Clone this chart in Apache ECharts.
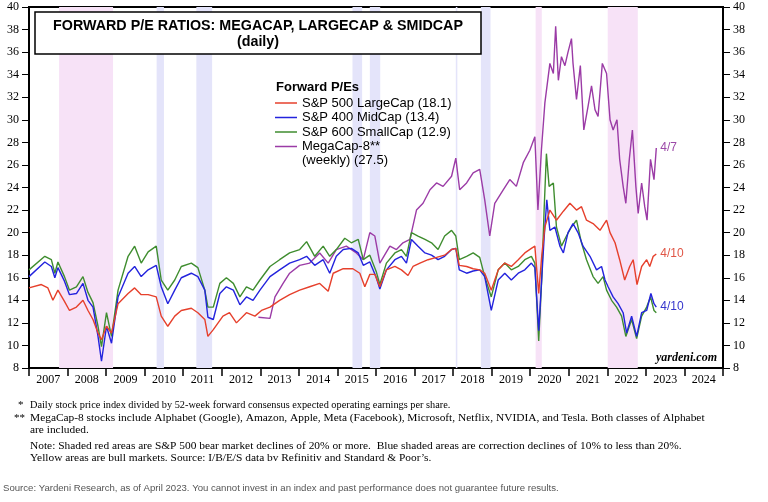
<!DOCTYPE html>
<html>
<head>
<meta charset="utf-8">
<script src="https://cdn.jsdelivr.net/npm/echarts@6/dist/echarts.min.js"></script>
<style>
  html, body { margin: 0; padding: 0; background: #fff; }
  #chart { width: 768px; height: 502px; }
</style>
</head>
<body>
<div id="chart"></div>
<script>
// bottom axis labels, one per calendar year
var yearLabels = ['2007', '2008', '2009', '2010', '2011', '2012', '2013', '2014', '2015',
  '2016', '2017', '2018', '2019', '2020', '2021', '2022', '2023', '2024'];

// [decimal year, forward P/E]
var largeCap = [[2007.00,15.1],[2007.32,15.4],[2007.49,15.1],[2007.62,14.0],[2007.75,14.9],[2007.92,13.9],
  [2008.05,13.1],[2008.23,13.4],[2008.40,14.0],[2008.53,13.1],[2008.66,12.3],[2008.79,11.1],[2008.88,10.5],
  [2009.01,11.7],[2009.14,11.1],[2009.31,13.7],[2009.57,14.6],[2009.74,15.1],[2009.91,14.5],[2010.09,14.5],
  [2010.30,14.3],[2010.43,12.6],[2010.60,11.7],[2010.78,12.6],[2010.95,13.1],[2011.21,13.3],[2011.38,12.9],
  [2011.56,12.3],[2011.64,10.8],[2011.78,11.4],[2012.03,12.6],[2012.20,12.9],[2012.38,12.0],[2012.64,12.9],
  [2012.86,12.6],[2013.03,13.1],[2013.25,13.4],[2013.50,14.0],[2013.76,14.5],[2014.02,14.9],[2014.28,15.2],
  [2014.54,15.5],[2014.76,14.8],[2014.89,16.4],[2015.15,16.8],[2015.40,16.8],[2015.58,16.4],[2015.71,15.2],
  [2015.84,16.3],[2015.97,16.3],[2016.10,15.2],[2016.27,16.7],[2016.49,17.0],[2016.66,16.7],[2016.83,16.2],
  [2016.96,17.0],[2017.14,17.3],[2017.35,17.6],[2017.57,17.8],[2017.78,18.0],[2017.96,18.5],[2018.07,18.6],
  [2018.16,17.1],[2018.35,17.0],[2018.52,16.8],[2018.69,16.7],[2018.82,16.4],[2018.99,14.9],[2019.17,16.7],
  [2019.34,17.3],[2019.51,17.0],[2019.69,17.6],[2019.86,18.2],[2020.03,18.6],[2020.12,18.8],[2020.22,14.6],
  [2020.30,18.0],[2020.38,20.5],[2020.51,22.0],[2020.68,21.1],[2020.86,21.9],[2021.03,22.6],[2021.20,22.0],
  [2021.33,22.3],[2021.46,21.1],[2021.63,20.8],[2021.81,20.2],[2021.98,21.1],[2022.07,20.0],[2022.20,19.1],
  [2022.32,17.6],[2022.45,15.8],[2022.58,17.0],[2022.67,17.6],[2022.77,15.4],[2022.89,17.0],[2023.02,17.6],
  [2023.10,17.0],[2023.19,17.9],[2023.27,18.1]];

var midCap = [[2007.00,16.1],[2007.41,17.4],[2007.58,17.0],[2007.67,16.0],[2007.75,16.9],[2007.92,15.7],
  [2008.05,14.5],[2008.23,14.6],[2008.40,15.5],[2008.53,14.0],[2008.66,13.4],[2008.79,10.8],[2008.88,8.6],
  [2009.01,11.7],[2009.14,10.2],[2009.31,14.3],[2009.57,16.4],[2009.74,17.0],[2009.91,16.1],[2010.09,16.7],
  [2010.30,17.1],[2010.43,15.2],[2010.60,13.7],[2010.78,14.9],[2010.95,16.0],[2011.21,16.4],[2011.38,16.1],
  [2011.56,14.9],[2011.64,12.5],[2011.78,12.3],[2011.95,14.6],[2012.12,15.2],[2012.30,14.9],[2012.47,13.6],
  [2012.64,14.3],[2012.81,14.0],[2012.99,14.9],[2013.25,16.1],[2013.50,16.7],[2013.76,17.3],[2014.02,17.6],
  [2014.20,17.9],[2014.41,17.1],[2014.63,17.6],[2014.80,16.4],[2014.97,17.9],[2015.15,18.5],[2015.36,18.6],
  [2015.54,18.2],[2015.67,17.1],[2015.84,17.4],[2016.01,16.0],[2016.10,15.0],[2016.27,16.7],[2016.49,17.6],
  [2016.66,17.9],[2016.79,17.3],[2016.92,19.4],[2017.09,18.8],[2017.27,18.2],[2017.44,18.0],[2017.61,17.6],
  [2017.78,17.9],[2017.96,18.5],[2018.07,18.6],[2018.16,16.7],[2018.35,16.4],[2018.52,16.6],[2018.69,16.7],
  [2018.82,16.1],[2018.99,13.1],[2019.17,15.8],[2019.34,16.4],[2019.51,15.8],[2019.69,16.4],[2019.86,16.7],
  [2020.03,17.3],[2020.12,16.9],[2020.22,11.3],[2020.30,16.0],[2020.36,19.5],[2020.43,22.9],[2020.51,20.2],
  [2020.64,20.5],[2020.77,18.8],[2020.86,18.2],[2020.98,20.0],[2021.11,20.8],[2021.24,20.0],[2021.37,18.8],
  [2021.55,17.9],[2021.72,16.7],[2021.85,17.0],[2021.94,15.8],[2022.02,15.2],[2022.15,14.3],[2022.28,13.7],
  [2022.41,12.9],[2022.50,11.1],[2022.63,12.6],[2022.76,10.8],[2022.89,12.9],[2023.02,13.1],[2023.13,14.6],
  [2023.21,13.7],[2023.27,13.4]];

var smallCap = [[2007.00,16.7],[2007.41,17.9],[2007.58,17.6],[2007.67,16.4],[2007.75,17.4],[2007.92,16.1],
  [2008.05,14.9],[2008.23,15.2],[2008.40,16.1],[2008.53,14.7],[2008.66,13.8],[2008.79,11.7],[2008.88,9.9],
  [2009.01,12.9],[2009.14,10.8],[2009.31,14.9],[2009.57,17.9],[2009.74,18.8],[2009.91,17.3],[2010.09,18.3],
  [2010.30,18.8],[2010.43,15.8],[2010.60,14.9],[2010.78,15.8],[2010.95,17.0],[2011.21,17.3],[2011.38,16.9],
  [2011.56,14.9],[2011.64,13.4],[2011.78,13.4],[2011.95,15.5],[2012.12,16.0],[2012.30,15.5],[2012.47,14.3],
  [2012.64,15.2],[2012.81,14.9],[2012.99,15.8],[2013.25,17.0],[2013.50,17.6],[2013.76,18.2],[2014.02,18.5],
  [2014.20,19.2],[2014.41,17.9],[2014.63,18.8],[2014.80,17.9],[2014.97,18.5],[2015.19,19.5],[2015.36,19.1],
  [2015.54,19.4],[2015.67,17.6],[2015.84,18.0],[2016.01,16.5],[2016.10,15.4],[2016.27,17.3],[2016.49,18.2],
  [2016.66,18.5],[2016.79,17.9],[2016.92,20.0],[2017.09,19.7],[2017.27,19.4],[2017.44,19.1],[2017.61,18.5],
  [2017.78,19.7],[2017.96,20.2],[2018.07,19.7],[2018.16,17.6],[2018.35,17.9],[2018.52,18.2],[2018.69,17.8],
  [2018.82,16.1],[2018.99,14.3],[2019.17,16.7],[2019.34,17.3],[2019.51,16.7],[2019.69,17.0],[2019.86,17.6],
  [2020.03,17.9],[2020.12,17.3],[2020.22,10.4],[2020.30,16.0],[2020.36,22.0],[2020.42,27.0],[2020.49,24.1],
  [2020.60,24.4],[2020.68,20.5],[2020.81,18.8],[2020.94,19.7],[2021.07,20.5],[2021.20,21.1],[2021.33,19.1],
  [2021.46,17.6],[2021.63,16.1],[2021.76,15.5],[2021.89,16.1],[2021.98,14.9],[2022.11,14.0],[2022.24,13.4],
  [2022.37,12.6],[2022.48,10.8],[2022.63,12.3],[2022.76,10.6],[2022.89,12.6],[2023.02,13.4],[2023.12,14.3],
  [2023.21,13.1],[2023.27,12.9]];

var megaCap = [[2012.95,12.5],[2013.25,12.4],[2013.38,14.3],[2013.59,15.5],[2013.76,16.4],[2014.02,17.1],
  [2014.28,17.3],[2014.54,18.2],[2014.76,17.3],[2014.97,18.5],[2015.23,18.8],[2015.49,18.2],[2015.67,17.6],
  [2015.84,20.0],[2015.97,19.7],[2016.10,17.3],[2016.36,18.8],[2016.53,18.5],[2016.70,19.1],[2016.88,19.4],
  [2017.05,22.0],[2017.22,22.6],[2017.40,23.8],[2017.57,24.4],[2017.74,24.1],[2017.96,25.0],[2018.07,26.6],
  [2018.17,23.8],[2018.35,24.4],[2018.52,25.3],[2018.69,25.6],[2018.82,22.9],[2018.95,19.7],[2019.08,22.6],
  [2019.30,23.8],[2019.47,24.7],[2019.64,24.1],[2019.82,26.2],[2019.99,27.3],[2020.12,28.5],[2020.20,22.0],
  [2020.29,27.3],[2020.38,31.5],[2020.51,35.0],[2020.60,34.1],[2020.66,38.3],[2020.73,33.5],[2020.81,35.6],
  [2020.90,34.8],[2020.98,36.0],[2021.07,37.2],[2021.11,35.0],[2021.20,31.8],[2021.30,34.8],[2021.39,29.1],
  [2021.50,31.2],[2021.59,33.0],[2021.68,30.9],[2021.76,30.3],[2021.87,35.0],[2021.98,34.1],[2022.07,30.0],
  [2022.15,29.1],[2022.25,30.0],[2022.32,26.5],[2022.41,24.1],[2022.48,22.6],[2022.57,26.5],[2022.65,29.1],
  [2022.74,24.1],[2022.80,21.7],[2022.89,24.4],[2022.97,22.3],[2023.03,21.1],[2023.12,26.5],[2023.21,24.7],
  [2023.27,27.5]];

// shaded periods: bear markets (pink) and corrections (blue)
var bearBands = [[2007.78, 2009.18], [2020.14, 2020.30], [2022.01, 2022.79]];
var correctionBands = [[2010.31, 2010.50], [2011.34, 2011.75], [2015.39, 2015.64],
  [2015.84, 2016.11], [2018.07, 2018.11], [2018.72, 2018.97]];

var serif = '"Liberation Serif", "Times New Roman", serif';
var sans = '"Liberation Sans", Arial, sans-serif';

function band(list, color) {
  return list.map(function (b) {
    return [{ xAxis: b[0], itemStyle: { color: color } }, { xAxis: b[1] }];
  });
}

function line(name, data, color, z, endText, endColor) {
  var s = {
    name: name,
    type: 'line',
    data: data,
    symbol: 'none',
    z: z,
    color: color,
    lineStyle: { width: 1.4, color: color },
    animation: false
  };
  if (endText) {
    s.endLabel = {
      show: true, formatter: endText, color: endColor,
      fontFamily: sans, fontSize: 12, distance: 4
    };
  }
  return s;
}

function note(x, y, text, size) {
  return { type: 'text', x: x, y: y,
    style: { text: text, font: size + 'px ' + serif, fill: '#000', verticalAlign: 'middle' } };
}

var myChart = echarts.init(document.getElementById('chart'));
myChart.setOption({
  animation: false,
  backgroundColor: '#fff',
  grid: {
    left: 29, right: 45, top: 7, bottom: 134,
    show: true, borderColor: '#000', borderWidth: 2
  },
  legend: {
    data: ['S&P 500 LargeCap (18.1)', 'S&P 400 MidCap (13.4)', 'S&P 600 SmallCap (12.9)', 'MegaCap-8**'],
    orient: 'vertical',
    left: 270, top: 91,
    icon: 'rect',
    itemWidth: 22, itemHeight: 1.5, itemGap: 0.5,
    selectedMode: false,
    textStyle: { fontFamily: sans, fontSize: 13, color: '#000', lineHeight: 14 }
  },
  xAxis: [
    { type: 'value', min: 2007, max: 2025, show: false },
    {
      type: 'category', data: yearLabels, position: 'bottom', boundaryGap: true,
      axisLine: { lineStyle: { color: '#000', width: 2 } },
      axisTick: { show: true, length: 8, lineStyle: { color: '#000', width: 1.5 } },
      axisLabel: { fontFamily: serif, fontSize: 12, color: '#000', margin: 6 },
      splitLine: { show: false }
    }
  ],
  yAxis: [
    {
      type: 'value', min: 8, max: 40, interval: 2, position: 'left',
      axisLine: { show: true, lineStyle: { color: '#000', width: 2 } },
      axisTick: { show: true, length: 7, lineStyle: { color: '#000' } },
      axisLabel: { fontFamily: serif, fontSize: 12, color: '#000', margin: 10 },
      splitLine: { show: false }
    },
    {
      type: 'value', min: 8, max: 40, interval: 2, position: 'right',
      axisLine: { show: true, lineStyle: { color: '#000', width: 2 } },
      axisTick: { show: true, length: 7, lineStyle: { color: '#000' } },
      axisLabel: { fontFamily: serif, fontSize: 12, color: '#000', margin: 10 },
      splitLine: { show: false }
    }
  ],
  series: [
    {
      name: 'bands', type: 'line', data: [], z: 1, silent: true,
      markArea: {
        silent: true,
        data: band(bearBands, '#f7e2f7').concat(band(correctionBands, '#e4e4fa'))
      }
    },
    line('MegaCap-8**', megaCap, '#9b3ba6', 2, '4/7', '#9c4aa8'),
    line('S&P 600 SmallCap (12.9)', smallCap, '#3f8d2f', 3),
    line('S&P 400 MidCap (13.4)', midCap, '#2323dd', 4, '4/10', '#3535cc'),
    line('S&P 500 LargeCap (18.1)', largeCap, '#e6402c', 5, '4/10', '#e05545')
  ],
  graphic: [
    {
      type: 'rect', z: 100,
      shape: { x: 35, y: 12, width: 446, height: 42 },
      style: { fill: '#fff', stroke: '#000', lineWidth: 1.5 }
    },
    { type: 'text', z: 101, x: 258, y: 26,
      style: { text: 'FORWARD P/E RATIOS: MEGACAP, LARGECAP & SMIDCAP', font: 'bold 14.3px ' + sans,
        fill: '#000', align: 'center', verticalAlign: 'middle' } },
    { type: 'text', z: 101, x: 258, y: 42,
      style: { text: '(daily)', font: 'bold 14.3px ' + sans, fill: '#000', align: 'center', verticalAlign: 'middle' } },
    { type: 'text', z: 101, x: 276, y: 87,
      style: { text: 'Forward P/Es', font: 'bold 13px ' + sans, fill: '#000', verticalAlign: 'middle' } },
    { type: 'text', z: 101, x: 302, y: 160,
      style: { text: '(weekly) (27.5)', font: '13px ' + sans, fill: '#000', verticalAlign: 'middle' } },
    { type: 'text', z: 101, x: 717, y: 358,
      style: { text: 'yardeni.com', font: 'italic bold 12px ' + serif, fill: '#000', align: 'right', verticalAlign: 'middle' } },
    note(18, 405, '*', 11),
    note(30, 405, 'Daily stock price index divided by 52-week forward consensus expected operating earnings per share.', 10.3),
    note(14, 418, '**', 11),
    note(30, 418, 'MegaCap-8 stocks include Alphabet (Google), Amazon, Apple, Meta (Facebook), Microsoft, Netflix, NVIDIA, and Tesla. Both classes of Alphabet', 11.4),
    note(30, 430, 'are included.', 11.4),
    note(30, 446, 'Note: Shaded red areas are S&P 500 bear market declines of 20% or more.  Blue shaded areas are correction declines of 10% to less than 20%.', 11.4),
    note(30, 458, 'Yellow areas are bull markets. Source: I/B/E/S data bv Refinitiv and Standard & Poor\u2019s.', 11.4),
    { type: 'text', x: 3, y: 488,
      style: { text: 'Source: Yardeni Research, as of April 2023. You cannot invest in an index and past performance does not guarantee future results.',
        font: '9.6px ' + sans, fill: '#555', verticalAlign: 'middle' } }
  ]
});
</script>
</body>
</html>
